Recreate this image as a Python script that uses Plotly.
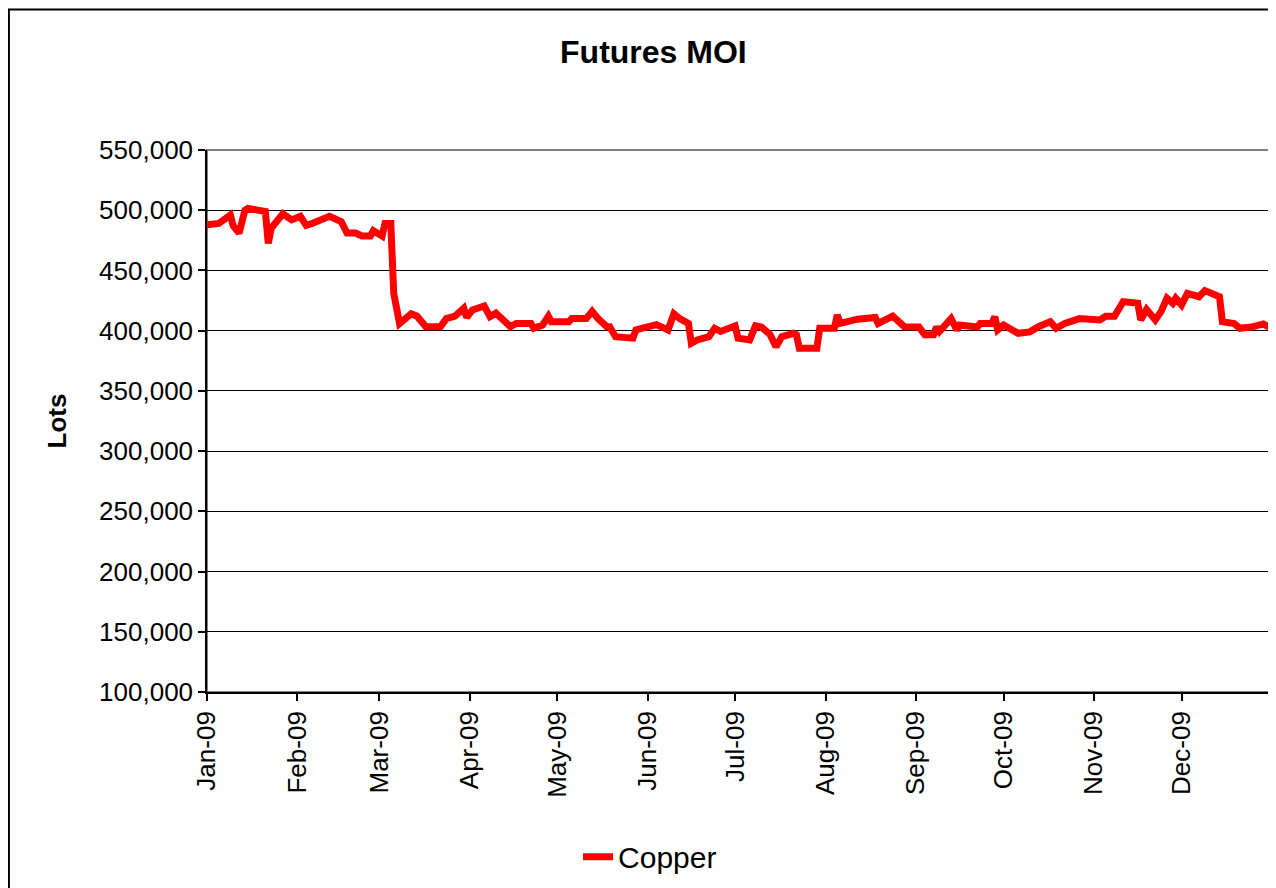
import plotly.graph_objects as go

dates = [
    "2009-01-01", "2009-01-05", "2009-01-09", "2009-01-10", "2009-01-12", "2009-01-14",
    "2009-01-15", "2009-01-19", "2009-01-21", "2009-01-22", "2009-01-23", "2009-01-27",
    "2009-01-30", "2009-02-02", "2009-02-04", "2009-02-06", "2009-02-09", "2009-02-12",
    "2009-02-16", "2009-02-18", "2009-02-21", "2009-02-23", "2009-02-26", "2009-02-27",
    "2009-03-02", "2009-03-03", "2009-03-05", "2009-03-06", "2009-03-08", "2009-03-12",
    "2009-03-14", "2009-03-17", "2009-03-22", "2009-03-24", "2009-03-27", "2009-03-30",
    "2009-03-31", "2009-04-02", "2009-04-06", "2009-04-08", "2009-04-10", "2009-04-15",
    "2009-04-17", "2009-04-22", "2009-04-23", "2009-04-26", "2009-04-28", "2009-04-29",
    "2009-05-05", "2009-05-06", "2009-05-11", "2009-05-13", "2009-05-15", "2009-05-18",
    "2009-05-19", "2009-05-21", "2009-05-27", "2009-05-28", "2009-05-31", "2009-06-02",
    "2009-06-04", "2009-06-08", "2009-06-10", "2009-06-12", "2009-06-15", "2009-06-16",
    "2009-06-18", "2009-06-22", "2009-06-24", "2009-06-26", "2009-07-01", "2009-07-02",
    "2009-07-06", "2009-07-08", "2009-07-10", "2009-07-13", "2009-07-15", "2009-07-17",
    "2009-07-21", "2009-07-22", "2009-07-23", "2009-07-29", "2009-07-30", "2009-08-04",
    "2009-08-05", "2009-08-06", "2009-08-12", "2009-08-18", "2009-08-19", "2009-08-24",
    "2009-08-28", "2009-09-02", "2009-09-04", "2009-09-07", "2009-09-08", "2009-09-09",
    "2009-09-13", "2009-09-15", "2009-09-16", "2009-09-22", "2009-09-23", "2009-09-27",
    "2009-09-28", "2009-09-29", "2009-10-01", "2009-10-06", "2009-10-10", "2009-10-13",
    "2009-10-17", "2009-10-19", "2009-10-22", "2009-10-27", "2009-11-03", "2009-11-05",
    "2009-11-08", "2009-11-11", "2009-11-13", "2009-11-16", "2009-11-17", "2009-11-19",
    "2009-11-22", "2009-11-24", "2009-11-26", "2009-11-28", "2009-11-29", "2009-12-01",
    "2009-12-03", "2009-12-06", "2009-12-07", "2009-12-09", "2009-12-11", "2009-12-14",
    "2009-12-15", "2009-12-19", "2009-12-21", "2009-12-25", "2009-12-29", "2009-12-31",
]

copper = [
    488000, 489000, 496000, 487000, 481000, 500000,
    501500, 499500, 499000, 472500, 485000, 497000,
    492000, 495000, 487500, 489000, 492000, 495000,
    490500, 481000, 481000, 478600, 478600, 483000,
    478600, 489000, 489000, 431000, 406000, 414000,
    412000, 403300, 403300, 410000, 412000, 418600,
    411000, 417200, 420500, 411600, 414500, 403300,
    406000, 406000, 402000, 404700, 412000, 407500,
    407500, 410000, 410000, 416000, 410000, 403300,
    403300, 395000, 393800, 400600, 402500, 403300,
    405000, 400600, 414000, 410000, 406000, 389600,
    392300, 395000, 402000, 399300, 404000, 393800,
    392300, 404000, 403000, 396700, 386700, 395000,
    397800, 396700, 385300, 385300, 402000, 402000,
    413000, 406000, 409500, 411000, 406000, 412000,
    403300, 403000, 396700, 396700, 403000, 399300,
    410000, 400600, 404700, 403000, 406000, 406000,
    411600, 400600, 404700, 397800, 399000, 403300,
    407500, 402000, 406000, 410000, 408900, 412000,
    412000, 424100, 423500, 422800, 408900, 417700,
    408900, 416000, 427000, 422800, 427000, 421400,
    431000, 428200, 428200, 433300, 431000, 428200,
    407500, 406000, 402000, 403000, 405600, 403000,
]

tick_dates = [
    "2009-01-01", "2009-02-01", "2009-03-01", "2009-04-01", "2009-05-01", "2009-06-01",
    "2009-07-01", "2009-08-01", "2009-09-01", "2009-10-01", "2009-11-01", "2009-12-01",
    "2010-01-01",
]
tick_labels = [
    "Jan-09", "Feb-09", "Mar-09", "Apr-09", "May-09", "Jun-09",
    "Jul-09", "Aug-09", "Sep-09", "Oct-09", "Nov-09", "Dec-09", "",
]
y_ticks = [100000, 150000, 200000, 250000, 300000, 350000, 400000, 450000, 500000, 550000]

FONT = "Arial, 'Liberation Sans', sans-serif"

fig = go.Figure()
fig.add_trace(go.Scatter(
    x=dates, y=copper, mode="lines", name="Copper",
    line=dict(color="#FF0000", width=7),
))

fig.update_layout(
    width=1268, height=880,
    margin=dict(l=199, r=4, t=142, b=196),
    paper_bgcolor="white", plot_bgcolor="white",
    font=dict(family=FONT, color="black", size=26),
    title=dict(text="<b>Futures MOI</b>", x=0.509, xanchor="center",
               y=0.95, yanchor="middle", font=dict(size=32, family=FONT)),
    showlegend=True,
    legend=dict(orientation="h", x=0.416, xanchor="center", y=-0.304, yanchor="middle",
                font=dict(size=30, family=FONT), bgcolor="rgba(0,0,0,0)"),
    shapes=[
        dict(type="rect", xref="paper", yref="paper", x0=0, x1=1, y0=0, y1=1,
             line=dict(color="#808080", width=2), fillcolor="rgba(0,0,0,0)", layer="below"),
        dict(type="rect", xref="paper", yref="paper", x0=-0.186, x1=1.02, y0=1.259, y1=-0.4,
             line=dict(color="black", width=2), fillcolor="rgba(0,0,0,0)", layer="below"),
    ],
)

fig.update_xaxes(
    type="date", range=["2009-01-01", "2010-01-01"],
    tickmode="array", tickvals=tick_dates, ticktext=tick_labels,
    tickangle=-90, tickfont=dict(size=26, family=FONT),
    ticks="outside", ticklen=7, tickwidth=1.5, tickcolor="black",
    showline=True, linecolor="black", linewidth=1.5,
    showgrid=False, zeroline=False,
)
fig.update_yaxes(
    range=[100000, 550000], tickmode="array", tickvals=y_ticks,
    tickformat=",d", tickfont=dict(size=26, family=FONT),
    ticks="outside", ticklen=7, tickwidth=1.5, tickcolor="black",
    showline=True, linecolor="black", linewidth=1.5,
    showgrid=True, gridcolor="black", gridwidth=1, zeroline=False,
    title=dict(text="<b>Lots</b>", font=dict(size=26, family=FONT), standoff=25),
)

fig.write_html("out.html")
